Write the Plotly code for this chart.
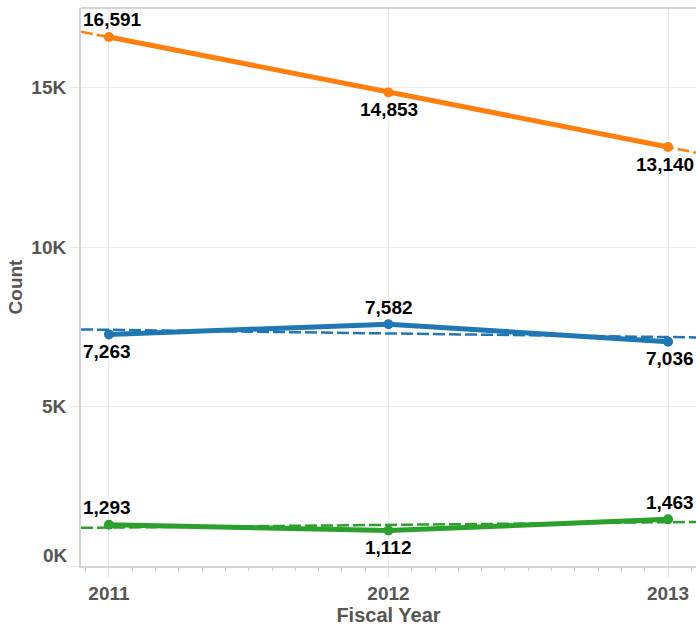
import numpy as np
import plotly.graph_objects as go

years = [2011, 2012, 2013]
series_names = ["Orange", "Blue", "Green"]
orange_vals = [16591, 14853, 13140]
blue_vals = [7263, 7582, 7036]
green_vals = [1293, 1112, 1463]
y_tick_vals = [0, 5000, 10000, 15000]
y_tick_text = ["", "5K", "10K", "15K"]
y_zero_label = "0K"
x_tick_text = ["2011", "2012", "2013"]

colors = ["#ff7f0e", "#1f77b4", "#2ca02c"]
label_pos = [
    ["above", "below", "below"],
    ["below", "above", "below"],
    ["above", "below", "above"],
]
all_vals = [orange_vals, blue_vals, green_vals]

x_range = [2010.9, 2013.1]
y_range = [0, 17500]
font_family = "Liberation Sans, Arial, sans-serif"
tick_font = dict(family=font_family, size=19, color="#555555", weight="bold")

fig = go.Figure()

# trend lines (linear regression of each series)
for vals, col in zip(all_vals, colors):
    m, b = np.polyfit(years, vals, 1)
    xs = np.array(x_range)
    fig.add_trace(go.Scatter(
        x=xs, y=m * xs + b, mode="lines",
        line=dict(color=col, width=2.5, dash="12px,4px"),
        hoverinfo="skip", showlegend=False, cliponaxis=True))

for name, vals, col in zip(series_names, all_vals, colors):
    fig.add_trace(go.Scatter(
        x=years, y=vals, mode="lines+markers", name=name,
        line=dict(color=col, width=5),
        marker=dict(color=col, size=10),
        showlegend=False))

annotations = []
for vals, poss in zip(all_vals, label_pos):
    for i, (yr, v, p) in enumerate(zip(years, vals, poss)):
        if i == 0:
            xa, xref, xv = "left", "paper", 0.0
        elif i == len(years) - 1:
            xa, xref, xv = "right", "paper", 1.0
        else:
            xa, xref, xv = "center", "x", yr
        annotations.append(dict(
            x=xv, xref=xref, y=v, yref="y", text=f"{v:,}",
            showarrow=False, xanchor=xa, yanchor="middle",
            yshift=17 if p == "above" else -17,
            font=dict(family=font_family, size=19, color="#000000", weight="bold"),
        ))

# zero tick label, lifted above the axis line as in the reference
annotations.append(dict(
    x=0, xref="paper", y=y_tick_vals[0], yref="y", text=y_zero_label,
    showarrow=False, xanchor="right", yanchor="middle", xshift=-11, yshift=11,
    font=tick_font))

fig.update_layout(
    width=696, height=626,
    margin=dict(l=81, r=0, t=8, b=60),
    plot_bgcolor="white", paper_bgcolor="white",
    annotations=annotations,
    shapes=[dict(type="line", xref="paper", yref="paper", x0=0, x1=1, y0=1, y1=1,
                 line=dict(color="#d4d4d4", width=2))],
    font=dict(family=font_family),
    xaxis=dict(
        range=x_range, tickvals=years, ticktext=x_tick_text,
        showgrid=True, gridcolor="#ebebeb", gridwidth=1,
        showline=True, linecolor="#d4d4d4", linewidth=2,
        ticks="outside", ticklen=9, tickcolor="#e0e0e0", tickwidth=1,
        minor=dict(dtick=1/12, tick0=2011, ticks="outside", ticklen=3, tickcolor="#c8c8c8", showgrid=False),
        tickfont=tick_font,
        title=dict(text="Fiscal Year", font=dict(size=20, color="#555555", weight="bold"), standoff=6),
        zeroline=False,
    ),
    yaxis=dict(
        range=y_range, tickvals=y_tick_vals, ticktext=y_tick_text,
        showgrid=True, gridcolor="#ebebeb", gridwidth=1,
        showline=True, linecolor="#d4d4d4", linewidth=2,
        ticks="outside", ticklen=9, tickcolor="#e6e6e6",
        tickfont=tick_font,
        title=dict(text="Count", font=dict(size=19, color="#555555", weight="bold"), standoff=4),
        zeroline=False,
    ),
)

fig.write_html("out.html", config={"displayModeBar": False},
               post_script="document.body.style.margin='0px';document.body.style.overflow='hidden';")
